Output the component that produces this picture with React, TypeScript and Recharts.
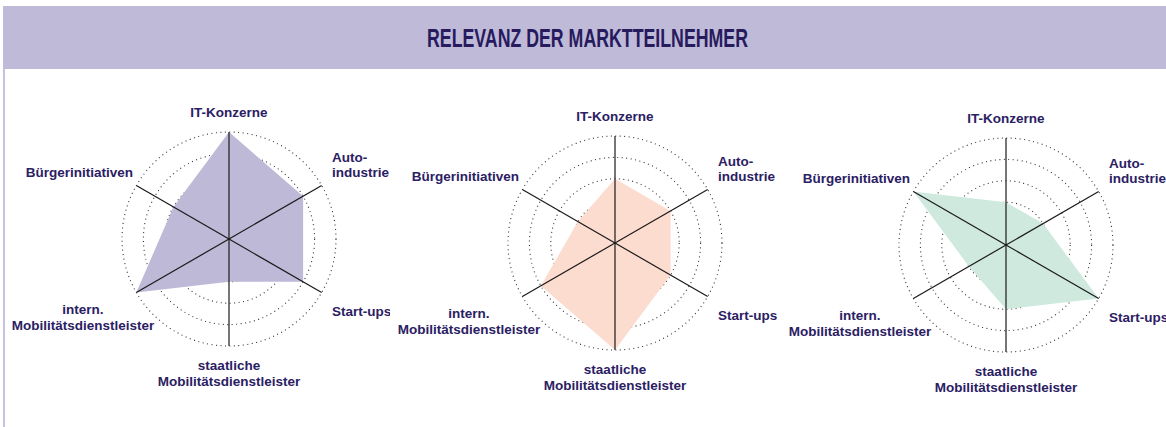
import React from 'react';
import { RadarChart, Radar, PolarGrid, PolarAngleAxis, PolarRadiusAxis } from 'recharts';

const categories = [
  'IT-Konzerne',
  'Auto-\nindustrie',
  'Start-ups',
  'staatliche\nMobilitätsdienstleister',
  'intern.\nMobilitätsdienstleister',
  'Bürgerinitiativen',
];

const panelA = [5, 4, 4, 2, 5, 3];
const panelB = [3, 3, 3, 5, 4, 2];
const panelC = [2, 2, 5, 3, 2, 5];

const rings = [2, 3, 4, 5];
const maxLevel = 5;

const TITLE = 'RELEVANZ DER MARKTTEILNEHMER';
const NAVY = '#2a2063';
const OUTER = 107;

// label anchor relative to chart centre (first line baseline)
const labelPos = [
  { dx: 0, dy: -122, anchor: 'middle', lh: 16 },
  { dx: 103, dy: -77, anchor: 'start', lh: 15 },
  { dx: 103, dy: 77, anchor: 'start', lh: 16 },
  { dx: 0, dy: 131, anchor: 'middle', lh: 16 },
  { dx: -146, dy: 75, anchor: 'middle', lh: 16 },
  { dx: -96, dy: -62, anchor: 'end', lh: 16 },
];

const AngleTick = (props: any) => {
  const { cx, cy, index, payload } = props;
  const pos = labelPos[index];
  const lines = String(payload.value).split('\n');
  return (
    <text
      x={cx + pos.dx}
      y={cy + pos.dy}
      textAnchor={pos.anchor}
      fill={NAVY}
      fontSize={13.5}
      fontWeight="bold"
      fontFamily="'Liberation Sans', Arial, sans-serif"
    >
      {lines.map((l, i) => (
        <tspan key={i} x={cx + pos.dx} dy={i === 0 ? 0 : pos.lh}>
          {l}
        </tspan>
      ))}
    </text>
  );
};

const Panel = ({ values, fill, left, cx, cy, width }: any) => {
  const data = categories.map((c, i) => ({ name: c, value: values[i] }));
  const ringRadii = rings.map(r => (r / maxLevel) * OUTER);
  return (
    <div style={{ position: 'absolute', left, top: 70 }}>
      <RadarChart width={width} height={357} data={data} cx={cx} cy={cy} outerRadius={OUTER}>
        <PolarGrid
          gridType="circle"
          radialLines={false}
          polarRadius={ringRadii}
          stroke="#333"
          strokeWidth={1.1}
          strokeDasharray="1 3.5"
          strokeOpacity={1}
        />
        <PolarRadiusAxis domain={[0, maxLevel]} tick={false} axisLine={false} tickLine={false} />
        <PolarAngleAxis dataKey="name" tick={<AngleTick />} axisLine={false} tickLine={false} />
        <Radar dataKey="value" fill={fill} fillOpacity={1} stroke="none" isAnimationActive={false} />
        <PolarGrid gridType="circle" polarRadius={[]} stroke="#1a1a1a" strokeWidth={1.2} zIndex={600} />
      </RadarChart>
    </div>
  );
};

export default function App() {
  return (
    <div style={{ position: 'absolute', left: 0, top: 0, width: 1166, height: 427, background: '#fff', overflow: 'hidden' }}>
      <div style={{ position: 'absolute', left: 3, top: 6, width: 1163, height: 63, background: '#bfbad8' }} />
      <div style={{ position: 'absolute', left: 3, top: 69, width: 2, height: 358, background: '#c6c1de' }} />
      <svg style={{ position: 'absolute', left: 0, top: 0 }} width={1166} height={70}>
        <text
          x={587.5}
          y={47.3}
          textAnchor="middle"
          fontSize={25}
          fontWeight="bold"
          fontFamily="'Liberation Sans', Arial, sans-serif"
          fill="#271b5e"
          textLength={321}
          lengthAdjust="spacingAndGlyphs"
        >
          {TITLE}
        </text>
      </svg>
      <Panel values={panelA} fill="#bdb9d7" left={0} width={390} cx={229} cy={169} />
      <Panel values={panelB} fill="#fcdccf" left={390} width={390} cx={225} cy={173} />
      <Panel values={panelC} fill="#cfe9df" left={780} width={386} cx={226} cy={175} />
    </div>
  );
}
